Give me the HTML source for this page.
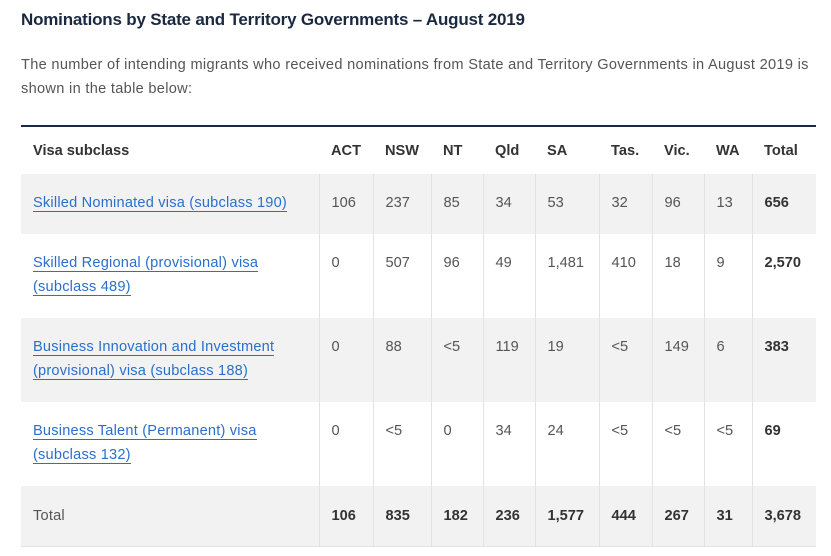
<!DOCTYPE html>
<html><head><meta charset="utf-8"><style>
html,body{margin:0;padding:0;background:#fff;width:831px;height:556px;overflow:hidden;font-family:"Liberation Sans",Arial,sans-serif;}
h2{position:absolute;left:21px;top:8px;margin:0;font-size:17px;font-weight:bold;color:#1b2940;line-height:24px;letter-spacing:-0.2px}
p{position:absolute;left:21px;top:53px;width:800px;margin:0;font-size:14.6px;line-height:24px;color:#555;letter-spacing:0.3px}
table{position:absolute;left:21px;top:125px;border-collapse:collapse;table-layout:fixed;width:795px;border-top:2px solid #1b2940;}
td,th{padding:0 0 0 12px;vertical-align:top;font-size:14.6px;line-height:24px;color:#555;text-align:left;white-space:nowrap;overflow:visible}
th{font-weight:bold;color:#333;height:47px;vertical-align:middle;padding-top:0}
tbody td{padding-top:17px;border-left:1px solid #e3e3e3}
tbody td:first-child{border-left:none;letter-spacing:0.2px}
tr.g td{background:#f2f2f2}
tr.h1 td{height:43px}
tr.h2 td{height:67px}
td b{color:#333}
a{color:#2a6fcc;text-decoration:none;border-bottom:1.5px solid #2a6fcc}
tr.t td{border-bottom:1px solid #e3e3e3;padding-top:18px;height:42px}
</style></head><body>
<h2>Nominations by State and Territory Governments – August 2019</h2>
<p>The number of intending migrants who received nominations from State and Territory Governments in August 2019 is shown in the table below:</p>
<table>
<colgroup><col style="width:298px"><col style="width:54px"><col style="width:58px"><col style="width:52px"><col style="width:52px"><col style="width:64px"><col style="width:53px"><col style="width:52px"><col style="width:48px"><col style="width:64px"></colgroup>
<thead><tr><th>Visa subclass</th><th>ACT</th><th>NSW</th><th>NT</th><th>Qld</th><th>SA</th><th>Tas.</th><th>Vic.</th><th>WA</th><th>Total</th></tr></thead>
<tbody>
<tr class="g h1"><td><a>Skilled Nominated visa (subclass 190)</a></td><td>106</td><td>237</td><td>85</td><td>34</td><td>53</td><td>32</td><td>96</td><td>13</td><td><b>656</b></td></tr>
<tr class="h2"><td><a>Skilled Regional (provisional) visa</a><br><a>(subclass 489)</a></td><td>0</td><td>507</td><td>96</td><td>49</td><td>1,481</td><td>410</td><td>18</td><td>9</td><td><b>2,570</b></td></tr>
<tr class="g h2"><td><a>Business Innovation and Investment</a><br><a>(provisional) visa (subclass 188)</a></td><td>0</td><td>88</td><td>&lt;5</td><td>119</td><td>19</td><td>&lt;5</td><td>149</td><td>6</td><td><b>383</b></td></tr>
<tr class="h2"><td><a>Business Talent (Permanent) visa</a><br><a>(subclass 132)</a></td><td>0</td><td>&lt;5</td><td>0</td><td>34</td><td>24</td><td>&lt;5</td><td>&lt;5</td><td>&lt;5</td><td><b>69</b></td></tr>
<tr class="g t"><td>Total</td><td><b>106</b></td><td><b>835</b></td><td><b>182</b></td><td><b>236</b></td><td><b>1,577</b></td><td><b>444</b></td><td><b>267</b></td><td><b>31</b></td><td><b>3,678</b></td></tr>
</tbody></table>
</body></html>
